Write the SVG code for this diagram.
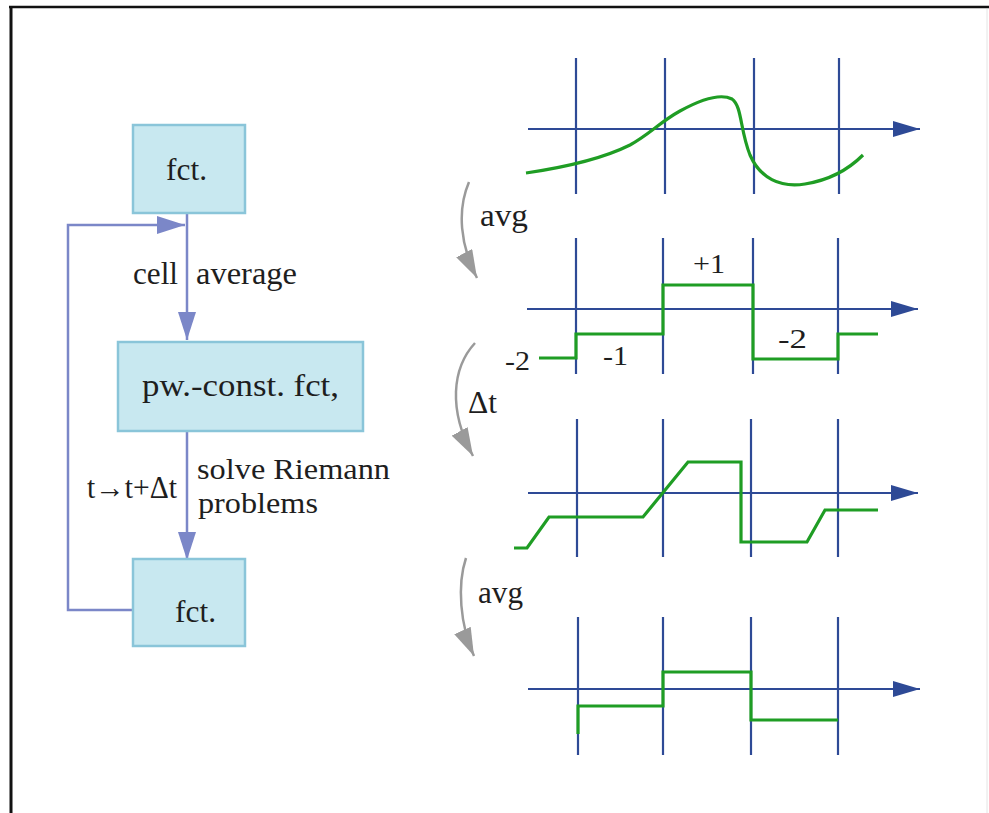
<svg xmlns="http://www.w3.org/2000/svg" width="989" height="813" viewBox="0 0 989 813">
<defs>
<style>
.box{fill:#c8e8f0;stroke:#8ac5d9;stroke-width:2.5}
.t{font-family:"Liberation Serif","Times New Roman",serif;font-size:31px;fill:#1e1e1e}
.t2{font-family:"Liberation Serif","Times New Roman",serif;font-size:29px;fill:#1e1e1e}
.lbl{font-family:"Liberation Serif","Times New Roman",serif;font-size:27px;fill:#1e1e1e}
.flow{fill:none;stroke:#7b87c8;stroke-width:2.5}
.grid{stroke:#2e4a96;stroke-width:2.2;fill:none}
.fn{fill:none;stroke:#1f9d24;stroke-width:3.2;stroke-linejoin:miter}
.garc{fill:none;stroke:#9a9a9a;stroke-width:2.5}
</style>
<marker id="fa" markerUnits="userSpaceOnUse" markerWidth="28" markerHeight="18" refX="28" refY="9" orient="auto"><path d="M0,0 L28,9 L0,18 z" fill="#7b87c8"/></marker>
<marker id="aa" markerUnits="userSpaceOnUse" markerWidth="27" markerHeight="16" refX="27" refY="8" orient="auto"><path d="M0,0 L27,8 L0,16 z" fill="#2e4a96"/></marker>
<marker id="ga" markerUnits="userSpaceOnUse" markerWidth="28" markerHeight="18" refX="28" refY="9" orient="auto"><path d="M0,0 L28,9 L0,18 z" fill="#9a9a9a"/></marker>
</defs>
<rect x="0" y="0" width="989" height="813" fill="#ffffff"/>
<g id="frame">
<line x1="9" y1="7" x2="989" y2="7" stroke="#111" stroke-width="2.5"/>
<line x1="11" y1="6" x2="11" y2="813" stroke="#111" stroke-width="3"/>
<line x1="987" y1="9" x2="987" y2="813" stroke="#e4e4e4" stroke-width="1"/>
</g>
<g id="connectors">
<line class="flow" x1="187" y1="213" x2="187" y2="340" marker-end="url(#fa)"/>
<line class="flow" x1="187" y1="431" x2="187" y2="560" marker-end="url(#fa)"/>
<polyline class="flow" points="133,610 68,610 68,225 185,225" marker-end="url(#fa)"/>
<text class="t" x="133" y="284" textLength="45" lengthAdjust="spacingAndGlyphs">cell</text>
<text class="t" x="196" y="284" textLength="101" lengthAdjust="spacingAndGlyphs">average</text>
<text class="t2" x="197" y="479" textLength="193" lengthAdjust="spacingAndGlyphs">solve Riemann</text>
<text class="t2" x="198" y="513" textLength="120" lengthAdjust="spacingAndGlyphs">problems</text>
<text class="t" x="87" y="498" textLength="90" lengthAdjust="spacingAndGlyphs">t→t+Δt</text>
</g>
<g id="node-fct1">
<rect class="box" x="133" y="125" width="112" height="88"/>
<text class="t" x="166" y="180" textLength="41" lengthAdjust="spacingAndGlyphs">fct.</text>
</g>
<g id="node-pwconst">
<rect class="box" x="118" y="342" width="245" height="89"/>
<text class="t" x="142" y="396" textLength="197" lengthAdjust="spacingAndGlyphs">pw.-const. fct,</text>
</g>
<g id="node-fct2">
<rect class="box" x="133" y="559" width="112" height="87"/>
<text class="t" x="175" y="622" textLength="41" lengthAdjust="spacingAndGlyphs">fct.</text>
</g>
<g id="panel1">
<line class="grid" x1="576" y1="58" x2="576" y2="194"/>
<line class="grid" x1="665" y1="58" x2="665" y2="194"/>
<line class="grid" x1="754" y1="58" x2="754" y2="194"/>
<line class="grid" x1="839" y1="58" x2="839" y2="194"/>
<line class="grid" x1="528" y1="129" x2="920" y2="129" marker-end="url(#aa)"/>
<path class="fn" d="M526,173 C560,168 600,160 630,145 C650,134 660,122 680,111 C700,100 720,93 732,99 C742,106 740,130 750,155 C760,178 780,188 805,184 C830,180 848,170 863,155"/>
</g>
<g id="panel2">
<line class="grid" x1="576" y1="238" x2="576" y2="374"/>
<line class="grid" x1="663" y1="238" x2="663" y2="374"/>
<line class="grid" x1="753" y1="238" x2="753" y2="374"/>
<line class="grid" x1="838" y1="238" x2="838" y2="374"/>
<line class="grid" x1="527" y1="309" x2="918" y2="309" marker-end="url(#aa)"/>
<polyline class="fn" points="539,358 576,358 576,334 663,334 663,285 753,285 753,359 838,359 838,334 878,334"/>
<text class="lbl" x="693" y="273" textLength="32" lengthAdjust="spacingAndGlyphs">+1</text>
<text class="lbl" x="505" y="370" textLength="25" lengthAdjust="spacingAndGlyphs">-2</text>
<text class="lbl" x="603" y="365" textLength="25" lengthAdjust="spacingAndGlyphs">-1</text>
<text class="lbl" x="778" y="348" textLength="29" lengthAdjust="spacingAndGlyphs">-2</text>
</g>
<g id="panel3">
<line class="grid" x1="577" y1="419" x2="577" y2="557"/>
<line class="grid" x1="663" y1="419" x2="663" y2="557"/>
<line class="grid" x1="751" y1="419" x2="751" y2="557"/>
<line class="grid" x1="838" y1="419" x2="838" y2="557"/>
<line class="grid" x1="528" y1="493" x2="918" y2="493" marker-end="url(#aa)"/>
<polyline class="fn" points="514,548 527,548 549,517 643,517 688,462 741,462 741,542 807,542 825,510 878,510"/>
</g>
<g id="panel4">
<line class="grid" x1="578" y1="617" x2="578" y2="755"/>
<line class="grid" x1="663" y1="617" x2="663" y2="755"/>
<line class="grid" x1="751" y1="617" x2="751" y2="755"/>
<line class="grid" x1="838" y1="617" x2="838" y2="755"/>
<line class="grid" x1="528" y1="689" x2="920" y2="689" marker-end="url(#aa)"/>
<polyline class="fn" points="578,734 578,706 663,706 663,672 751,672 751,720 838,720"/>
</g>
<g id="steps">
<path class="garc" d="M469,182 C457,210 460,245 477,278" marker-end="url(#ga)"/>
<text class="t" x="480" y="226" textLength="48" lengthAdjust="spacingAndGlyphs">avg</text>
<path class="garc" d="M475,343 C452,368 448,410 473,456" marker-end="url(#ga)"/>
<text class="t" x="468" y="413" textLength="29" lengthAdjust="spacingAndGlyphs">Δt</text>
<path class="garc" d="M466,558 C457,585 460,625 474,656" marker-end="url(#ga)"/>
<text class="t" x="478" y="603" textLength="45" lengthAdjust="spacingAndGlyphs">avg</text>
</g>
</svg>
